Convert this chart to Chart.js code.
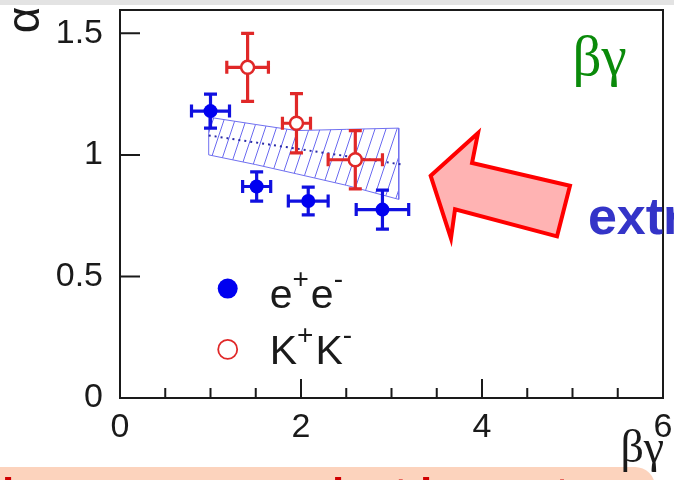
<!DOCTYPE html>
<html>
<head>
<meta charset="utf-8">
<script src="https://cdn.jsdelivr.net/npm/chart.js@4.4.1/dist/chart.umd.min.js"></script>
<style>
  html, body { margin: 0; padding: 0; background: #fff; }
  #wrap { width: 674px; height: 480px; }
</style>
</head>
<body>
<div id="wrap"><canvas id="chart" width="674" height="480"></canvas></div>
<script>
// e+e- measurements (value and errors)
var eeX = [1.0, 1.51, 2.08, 2.9];
var eeY = [1.18, 0.87, 0.81, 0.775];
var eeXErr = [0.21, 0.155, 0.22, 0.29];
var eeYErr = [0.07, 0.06, 0.057, 0.08];

// K+K- measurements
var kkX = [1.41, 1.95, 2.6];
var kkY = [1.36, 1.13, 0.98];
var kkXErr = [0.23, 0.155, 0.30];
var kkYErr = [0.14, 0.122, 0.12];

// hatched band and central fit
var bandX = [0.98, 1.5, 1.95, 2.5, 3.08];
var bandHigh = [1.155, 1.125, 1.10, 1.105, 1.11];
var bandLow = [1.0, 0.96, 0.922, 0.875, 0.817];
var fitX = [0.98, 3.12];
var fitY = [1.08, 0.96];

// axes
var xTicks = [0, 2, 4, 6];
var xMinorTicks = [0.5, 1, 1.5, 2.5, 3, 3.5, 4.5, 5, 5.5];
var yTicks = [0, 0.5, 1, 1.5];

// legend
var legendLabels = [['e', '+', 'e', '-'], ['K', '+', 'K', '-']];
var legendX = 1.19;
var legendY = [0.45, 0.2];

// arrow annotation (data units)
var arrowX = [3.433, 3.956, 3.89, 4.972, 4.829, 3.702, 3.657];
var arrowY = [0.914, 1.09, 0.967, 0.873, 0.665, 0.776, 0.657];

var SANS = '"Liberation Sans", Arial, sans-serif';
var SERIF = '"Liberation Serif", "Times New Roman", serif';

function pts(xs, ys) {
  return xs.map(function (x, i) { return { x: x, y: ys[i] }; });
}

// diagonal hatch for the band
function hatch() {
  var c = document.createElement('canvas');
  c.width = 11; c.height = 33;
  var g = c.getContext('2d');
  g.strokeStyle = '#6a6af0';
  g.lineWidth = 1;
  [-11, 0, 11].forEach(function (o) {
    g.beginPath();
    g.moveTo(o - 1, 36);
    g.lineTo(o + 12, -3);
    g.stroke();
  });
  return g.createPattern(c, 'repeat');
}

var outlineX = bandX.concat(bandX.slice().reverse(), [bandX[0]]);
var outlineY = bandHigh.concat(bandLow.slice().reverse(), [bandHigh[0]]);

var errorBars = {
  id: 'errorBars',
  beforeDatasetDraw: function (chart, args) {
    var ds = chart.data.datasets[args.index];
    if (!ds.xErr) return;
    var xs = chart.scales.x, ys = chart.scales.y, ctx = chart.ctx;
    ctx.save();
    ctx.strokeStyle = ds.barColor;
    ctx.lineWidth = 3.2;
    ds.data.forEach(function (p, i) {
      var cx = xs.getPixelForValue(p.x), cy = ys.getPixelForValue(p.y);
      var x0 = xs.getPixelForValue(p.x - ds.xErr[i]), x1 = xs.getPixelForValue(p.x + ds.xErr[i]);
      var y0 = ys.getPixelForValue(p.y - ds.yErr[i]), y1 = ys.getPixelForValue(p.y + ds.yErr[i]);
      ctx.beginPath();
      ctx.moveTo(x0, cy); ctx.lineTo(x1, cy);
      ctx.moveTo(cx, y0); ctx.lineTo(cx, y1);
      ctx.moveTo(x0, cy - 6.5); ctx.lineTo(x0, cy + 6.5);
      ctx.moveTo(x1, cy - 6.5); ctx.lineTo(x1, cy + 6.5);
      ctx.moveTo(cx - 6.5, y0); ctx.lineTo(cx + 6.5, y0);
      ctx.moveTo(cx - 6.5, y1); ctx.lineTo(cx + 6.5, y1);
      ctx.stroke();
    });
    ctx.restore();
  }
};

function supText(ctx, parts, x, y) {
  ctx.textAlign = 'left';
  ctx.textBaseline = 'alphabetic';
  for (var i = 0; i < parts.length; i++) {
    var sup = i % 2 === 1;
    ctx.font = (sup ? '28px ' : '41px ') + SANS;
    ctx.fillText(parts[i], x, sup ? y - 20 : y);
    x += ctx.measureText(parts[i]).width + (sup ? 2 : 0);
  }
}

var decorations = {
  id: 'decorations',
  beforeDraw: function (chart) {
    var ctx = chart.ctx;
    ctx.save();
    ctx.fillStyle = '#fff';
    ctx.fillRect(0, 0, chart.width, chart.height);
    ctx.fillStyle = '#e3e3e3';
    ctx.fillRect(0, 0, chart.width, 5);
    ctx.restore();
  },
  afterDraw: function (chart) {
    var ctx = chart.ctx, a = chart.chartArea;
    var xs = chart.scales.x, ys = chart.scales.y;
    ctx.save();

    // frame
    ctx.strokeStyle = '#1a1a1a';
    ctx.lineWidth = 2;
    ctx.strokeRect(a.left, a.top + 1, a.right - a.left, a.bottom - a.top - 1);

    // ticks, drawn inward
    ctx.beginPath();
    yTicks.forEach(function (v) {
      var y = ys.getPixelForValue(v);
      ctx.moveTo(a.left, y); ctx.lineTo(a.left + 20, y);
    });
    xTicks.forEach(function (v) {
      var x = xs.getPixelForValue(v);
      ctx.moveTo(x, a.bottom); ctx.lineTo(x, a.bottom - 19);
    });
    xMinorTicks.forEach(function (v) {
      var x = xs.getPixelForValue(v);
      ctx.moveTo(x, a.bottom); ctx.lineTo(x, a.bottom - 10);
    });
    ctx.stroke();

    // y title: rotated alpha
    ctx.save();
    ctx.translate(26, 20);
    ctx.rotate(-Math.PI / 2);
    ctx.fillStyle = '#1a1a1a';
    ctx.font = '46px ' + SANS;
    ctx.textAlign = 'center';
    ctx.textBaseline = 'middle';
    ctx.fillText('α', 0, 0);
    ctx.restore();

    // legend
    var lx = xs.getPixelForValue(legendX);
    legendY.forEach(function (v, i) {
      var ly = ys.getPixelForValue(v);
      ctx.beginPath();
      if (i === 0) {
        ctx.arc(lx, ly, 10, 0, Math.PI * 2);
        ctx.fillStyle = '#0000f0';
        ctx.fill();
      } else {
        ctx.arc(lx, ly, 9.5, 0, Math.PI * 2);
        ctx.fillStyle = '#fff';
        ctx.fill();
        ctx.strokeStyle = '#e02828';
        ctx.lineWidth = 1.8;
        ctx.stroke();
      }
      ctx.fillStyle = '#1a1a1a';
      supText(ctx, legendLabels[i], lx + 42, ly + (i === 0 ? 19 : 15));
    });

    // green label
    ctx.fillStyle = '#0a8a0a';
    ctx.font = '57px ' + SERIF;
    ctx.textAlign = 'left';
    ctx.textBaseline = 'alphabetic';
    ctx.fillText('βγ', xs.getPixelForValue(5.0), ys.getPixelForValue(1.33));

    // arrow
    ctx.beginPath();
    arrowX.forEach(function (v, i) {
      var px = xs.getPixelForValue(v), py = ys.getPixelForValue(arrowY[i]);
      if (i === 0) ctx.moveTo(px, py); else ctx.lineTo(px, py);
    });
    ctx.closePath();
    ctx.fillStyle = '#ffb3b3';
    ctx.fill();
    ctx.strokeStyle = '#ff0000';
    ctx.lineWidth = 4;
    ctx.lineJoin = 'miter';
    ctx.stroke();

    // blue side text, cut by the window
    ctx.fillStyle = '#3434c8';
    ctx.font = 'bold 52px ' + SANS;
    ctx.fillText('extrapolation', xs.getPixelForValue(5.17), ys.getPixelForValue(0.673));

    // bottom pink box
    ctx.fillStyle = '#fcd3bd';
    ctx.beginPath();
    ctx.moveTo(0, 467);
    ctx.lineTo(635, 467);
    ctx.arcTo(655, 467, 655, 487, 20);
    ctx.lineTo(655, 480);
    ctx.lineTo(0, 480);
    ctx.closePath();
    ctx.fill();
    ctx.fillStyle = '#d00000';
    ctx.font = 'bold 44px ' + SANS;
    ctx.fillText('l                          l    t l          t', 2, 509);

    // x title
    ctx.fillStyle = '#1a1a1a';
    ctx.font = '46px ' + SERIF;
    ctx.fillText('βγ', xs.getPixelForValue(5.53), 462);

    ctx.restore();
  }
};

var ctx = document.getElementById('chart').getContext('2d');
var chart = new Chart(ctx, {
  type: 'scatter',
  data: {
    datasets: [
      {
        label: 'e+e-',
        data: pts(eeX, eeY),
        xErr: eeXErr, yErr: eeYErr, barColor: '#1010e0',
        pointRadius: 7, pointHoverRadius: 7,
        backgroundColor: '#0000f0', borderColor: '#0000f0', borderWidth: 0
      },
      {
        label: 'K+K-',
        data: pts(kkX, kkY),
        xErr: kkXErr, yErr: kkYErr, barColor: '#e02828',
        pointRadius: 6.5, pointHoverRadius: 6.5,
        backgroundColor: '#fff', borderColor: '#e02828', borderWidth: 2.5
      },
      {
        label: 'fit',
        data: pts(fitX, fitY),
        showLine: true, pointRadius: 0,
        borderColor: '#2a2aa8', borderWidth: 2, borderDash: [2, 4], fill: false
      },
      {
        label: 'band outline',
        data: pts(outlineX, outlineY),
        showLine: true, pointRadius: 0,
        borderColor: '#7070f0', borderWidth: 1, fill: false
      },
      {
        label: 'band high',
        data: pts(bandX, bandHigh),
        showLine: true, pointRadius: 0, borderWidth: 0,
        borderColor: 'rgba(0,0,0,0)', backgroundColor: hatch(), fill: '+1'
      },
      {
        label: 'band low',
        data: pts(bandX, bandLow),
        showLine: true, pointRadius: 0, borderWidth: 0,
        borderColor: 'rgba(0,0,0,0)', fill: false
      }
    ]
  },
  options: {
    responsive: false,
    animation: false,
    events: [],
    layout: { padding: { top: 6, right: 11, bottom: 0, left: 0 } },
    plugins: { legend: { display: false }, tooltip: { enabled: false } },
    scales: {
      x: {
        type: 'linear', min: 0, max: 6, position: 'bottom',
        afterBuildTicks: function (s) { s.ticks = xTicks.map(function (v) { return { value: v }; }); },
        afterFit: function (s) {
          s.height = 82;
          s.paddingLeft = 0; s.paddingRight = 0; s.paddingTop = 0; s.paddingBottom = 0;
        },
        grid: { display: false, drawTicks: false, tickLength: 0 },
        border: { display: false },
        ticks: {
          font: { family: SANS, size: 34 }, color: '#1a1a1a', padding: 9, maxRotation: 0, autoSkip: false,
          callback: function (v) { return String(v); }
        }
      },
      y: {
        type: 'linear', min: 0, max: 1.6,
        afterBuildTicks: function (s) { s.ticks = yTicks.map(function (v) { return { value: v }; }); },
        afterFit: function (s) {
          s.width = 120;
          s.paddingLeft = 0; s.paddingRight = 0; s.paddingTop = 0; s.paddingBottom = 0;
        },
        grid: { display: false, drawTicks: false, tickLength: 0 },
        border: { display: false },
        ticks: {
          font: { family: SANS, size: 34 }, color: '#1a1a1a', padding: 17,
          callback: function (v) { return String(v); }
        }
      }
    }
  },
  plugins: [errorBars, decorations]
});
</script>
</body>
</html>
